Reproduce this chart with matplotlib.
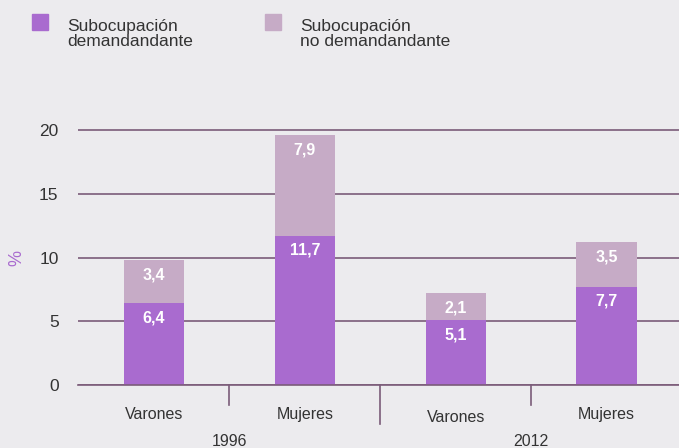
import matplotlib.pyplot as plt
from matplotlib.patches import Rectangle
import matplotlib.transforms as mtransforms

plt.rcParams['font.family'] = ['Liberation Sans', 'DejaVu Sans']

# data
categories = ["Varones", "Mujeres", "Varones", "Mujeres"]
years = ["1996", "2012"]
demandante = [6.4, 11.7, 5.1, 7.7]
no_demandante = [3.4, 7.9, 2.1, 3.5]
series_names = ["Subocupación\ndemandandante", "Subocupación\nno demandandante"]

bg = "#ecebee"
c_dark = "#a96bcf"
c_light = "#c6abc6"
grid_c = "#7b5c79"
txt_c = "#333333"

fig = plt.figure(figsize=(6.79, 4.48), dpi=100, facecolor=bg)
ax = fig.add_axes([78 / 679, 63 / 448, 601 / 679, 262 / 448], facecolor=bg)

x = list(range(len(categories)))
ax.bar(x, demandante, width=0.4, color=c_dark, zorder=3)
ax.bar(x, no_demandante, width=0.4, bottom=demandante, color=c_light, zorder=3)

for xi, a, b in zip(x, demandante, no_demandante):
    ax.annotate(f"{a:.1f}".replace(".", ","), (xi, a), xytext=(0, -10.5),
                textcoords="offset points", ha="center", va="center",
                color="white", fontsize=11.5, fontweight="bold", zorder=4)
    ax.annotate(f"{b:.1f}".replace(".", ","), (xi, a + b), xytext=(0, -10.5),
                textcoords="offset points", ha="center", va="center",
                color="white", fontsize=11.5, fontweight="bold", zorder=4)

ax.set_xlim(-0.503, 3.48)
ax.set_ylim(0, 20.55)
ax.set_yticks([0, 5, 10, 15, 20])
ax.yaxis.grid(True, color=grid_c, linewidth=1.2, zorder=0)
ax.tick_params(axis="y", length=0, pad=14, labelsize=12.5, labelcolor=txt_c)
for s in ["top", "right", "left"]:
    ax.spines[s].set_visible(False)
ax.spines["bottom"].set_color(grid_c)
ax.spines["bottom"].set_linewidth(1.2)
ax.spines["bottom"].set_zorder(5)

ax.set_xticks(x)
ax.set_xticklabels(categories)
ax.tick_params(axis="x", length=0, pad=16, labelsize=11.5, labelcolor=txt_c)
ax.get_xticklabels()[2].set_y(-0.012)

# separators under the axis
trans = mtransforms.blended_transform_factory(ax.transData, ax.transAxes)
for sx, depth in [(0.5, -0.075), (1.5, -0.15), (2.5, -0.075)]:
    ax.plot([sx, sx], [0, depth], transform=trans, color=grid_c,
            linewidth=1.2, clip_on=False)

for i, yr in enumerate(years):
    ax.text(2 * i + 0.5, -0.215, yr, transform=trans, ha="center", va="center",
            fontsize=11.5, color=txt_c)

ax.text(-0.102, 0.485, "%", transform=ax.transAxes, rotation=90, ha="center",
        va="center", color=c_dark, fontsize=13)

# legend
for (lx, tx), name, col in zip([(32, 67), (265, 300)], series_names, [c_dark, c_light]):
    fig.add_artist(Rectangle((lx / 679, 1 - 30 / 448), 16 / 679, 16 / 448,
                             transform=fig.transFigure, color=col))
    fig.text(tx / 679, 1 - 19 / 448, name, ha="left", va="top", fontsize=12.5,
             color=txt_c, linespacing=1.0)

fig.savefig("out.png", dpi=100, facecolor=bg)
